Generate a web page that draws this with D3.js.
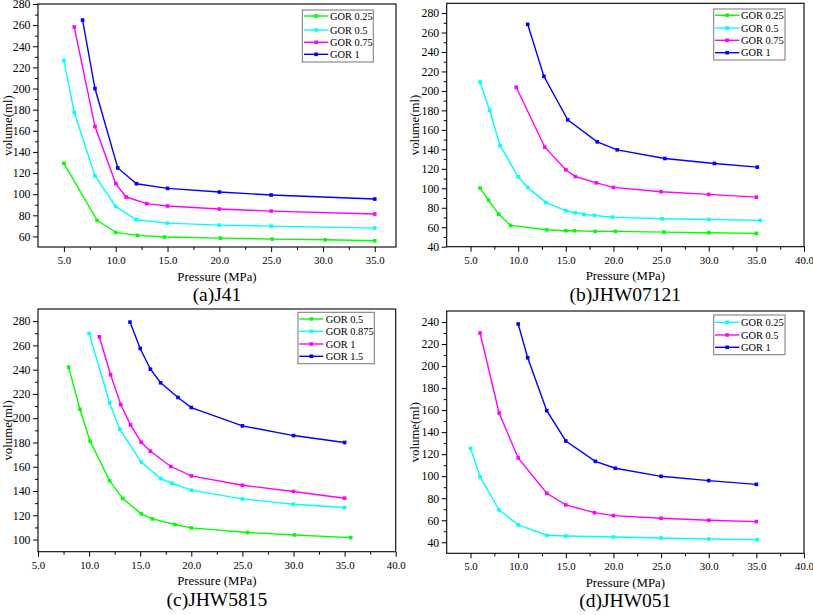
<!DOCTYPE html>
<html><head><meta charset="utf-8">
<script src="https://cdn.jsdelivr.net/npm/d3@7/dist/d3.min.js"></script>
</head><body style="margin:0;background:#fff">
<svg id="chart" width="813" height="615" style="display:block;background:#fff"></svg>
<script>
// ---------------- DATA ----------------
// Panel (a) J41 : [pressure MPa, volume ml]
const a_gor025 = [[5,129.2],[8.2,75.2],[10,63.8],[12.1,61],[14.7,59.4],[20.1,58.4],[25.1,57.5],[30.2,56.8],[35,55.9]];
const a_gor05  = [[5,226.6],[6,177.3],[8,117.2],[10,88.4],[12,75.8],[15,72.6],[20,70.7],[25,69.8],[35,67.9]];
const a_gor075 = [[6,258.2],[8,164],[10,110],[11,97.3],[13,91],[15,88.8],[20,85.9],[25,84],[35,81.2]];
const a_gor1   = [[6.8,264.8],[8,200],[10.2,124.8],[12,109.9],[15,105.5],[20,102],[25,99.2],[35,95.4]];
// Panel (b) JHW07121
const b_gor025 = [[6,100.2],[6.9,87.9],[7.95,73.5],[9.2,61.9],[13,57.4],[15,56.4],[15.9,56.4],[18.1,55.7],[20.2,55.7],[25.3,55],[30,54.4],[35,53.7]];
const b_gor05  = [[6,209.2],[7,180.2],[8.1,143.9],[10,111.8],[11,100.9],[12.9,85.5],[15,76.9],[16,74.9],[16.9,73.2],[18,72.1],[19.9,70.4],[25.1,68.7],[30,68],[35.4,67]];
const b_gor075 = [[9.8,203.8],[12.8,142.2],[15,119],[16,112.1],[18.2,105.6],[20,100.9],[25,96.4],[30,93.7],[35,90.9]];
const b_gor1   = [[11,268.4],[12.7,215],[15.2,170.3],[18.3,147.7],[20.4,139.5],[25.4,130.6],[30.6,125.5],[35.1,121.7]];
// Panel (c) JHW5815
const c_gor05   = [[8,242.1],[9.1,207.4],[10.1,181.1],[12,148.6],[13.3,133.8],[15.1,121.2],[16.2,117],[18.4,112.4],[20,109.6],[25.5,105.8],[30.1,103.8],[35.6,101.6]];
const c_gor0875 = [[10,269.8],[12,212.7],[13,191],[15.1,163.8],[17,150.3],[18.1,146.4],[20,140.7],[25,133.5],[30,129.1],[35,126.4]];
const c_gor1    = [[11,267.1],[12.1,235.8],[13.1,211.3],[14.05,194.5],[15.1,180.2],[16,172.8],[18,160.2],[20,152.5],[25,144.8],[30,139.6],[35,134.1]];
const c_gor15   = [[14,279.2],[15,257.5],[16,240.4],[17,229.2],[18.7,217.1],[20,208.8],[25,193.7],[30,185.7],[35,180]];
// Panel (d) JHW051
const d_gor025 = [[5,125.3],[6,99.6],[8,69.3],[10,55.7],[13,46.4],[15,45.7],[20,44.8],[25,43.9],[30,43],[35.1,42.4]];
const d_gor05  = [[6,230],[8,157.4],[10,116.6],[13,84.5],[15,73.9],[18,66.9],[20,64.2],[25,61.8],[30,60],[35,58.8]];
const d_gor1   = [[10,238.2],[11,207.6],[13,159.5],[15,132],[18.1,113.5],[20.2,107.2],[25,99.9],[30,96],[35,92.6]];

// tick values
const xTicksA = [5,10,15,20,25,30,35];
const xTicksBCD = [5,10,15,20,25,30,35,40];
const yTicksA = [60,80,100,120,140,160,180,200,220,240,260,280];
const yTicksB = [40,60,80,100,120,140,160,180,200,220,240,260,280];
const yTicksC = [100,120,140,160,180,200,220,240,260,280];
const yTicksD = [40,60,80,100,120,140,160,180,200,220,240];

const titles = ["(a)J41","(b)JHW07121","(c)JHW5815","(d)JHW051"];
const xLabel = "Pressure (MPa)";
const yLabel = "volume(ml)";

// ---------------- STYLE / LAYOUT ----------------
const FONT = "'Liberation Serif'";
const COL = {green:"#00ff00", cyan:"#00ffff", magenta:"#ff00ff", blue:"#0000ff"};

const panels = [
  {title:titles[0], box:{l:38,t:4,r:396,b:247}, xDom:[2.5,37.05], yDom:[50,280], xT:xTicksA, yT:yTicksA, yLabX:11.5,
   legend:{x:302.3,y:10,w:71,h:52, lineX0:304, lineX1:328.3, textX:330, rows:[16,30,42.3,54.3]},
   series:[{name:"GOR 0.25",d:a_gor025,c:COL.green},{name:"GOR 0.5",d:a_gor05,c:COL.cyan},{name:"GOR 0.75",d:a_gor075,c:COL.magenta},{name:"GOR 1",d:a_gor1,c:COL.blue}]},
  {title:titles[1], box:{l:446.7,t:3.3,r:804,b:246.7}, xDom:[2.5,40], yDom:[40,290], xT:xTicksBCD, yT:yTicksB, yLabX:418.5,
   legend:{x:713.7,y:9,w:71.3,h:51, lineX0:715, lineX1:739.3, textX:741, rows:[15.3,28,40.3,52.7]},
   series:[{name:"GOR 0.25",d:b_gor025,c:COL.green},{name:"GOR 0.5",d:b_gor05,c:COL.cyan},{name:"GOR 0.75",d:b_gor075,c:COL.magenta},{name:"GOR 1",d:b_gor1,c:COL.blue}]},
  {title:titles[2], box:{l:38,t:309,r:395.7,b:551.7}, xDom:[5,40], yDom:[90,290], xT:xTicksBCD, yT:yTicksC, yLabX:11.5,
   legend:{x:298,y:312.3,w:76.3,h:51.4, lineX0:299.3, lineX1:323.3, textX:325.7, rows:[319,331.3,344,356.3]},
   series:[{name:"GOR 0.5",d:c_gor05,c:COL.green},{name:"GOR 0.875",d:c_gor0875,c:COL.cyan},{name:"GOR 1",d:c_gor1,c:COL.magenta},{name:"GOR 1.5",d:c_gor15,c:COL.blue}]},
  {title:titles[3], box:{l:446.7,t:311,r:804,b:553.3}, xDom:[2.5,40], yDom:[30,250], xT:xTicksBCD, yT:yTicksD, yLabX:418.5,
   legend:{x:713.7,y:315,w:71.3,h:39.7, lineX0:715, lineX1:739.3, textX:741, rows:[322.3,335,347.3]},
   series:[{name:"GOR 0.25",d:d_gor025,c:COL.cyan},{name:"GOR 0.5",d:d_gor05,c:COL.magenta},{name:"GOR 1",d:d_gor1,c:COL.blue}]}
];

const svg = d3.select("#chart");

function minorTicks(dom, step, majorStep){
  const out=[];
  const s = Math.ceil(dom[0]/step - 1e-9);
  const e = Math.floor(dom[1]/step + 1e-9);
  for(let i=s;i<=e;i++){
    const v = +(i*step).toFixed(6);
    if (Math.abs(v/majorStep - Math.round(v/majorStep))<1e-6) continue;
    if (Math.abs(v-dom[0])<1e-6 || Math.abs(v-dom[1])<1e-6) continue;
    out.push(v);
  }
  return out;
}

function styleText(sel, size){
  sel.style("font-family",FONT).style("font-size",size+"px").style("fill","#000");
}

panels.forEach(p=>{
  const B = p.box;
  const x = d3.scaleLinear().domain(p.xDom).range([B.l,B.r]);
  const y = d3.scaleLinear().domain(p.yDom).range([B.b,B.t]);
  const g = svg.append("g");

  const xa = d3.axisBottom(x).tickValues(p.xT).tickFormat(d3.format(".1f")).tickSize(5).tickPadding(4.5).tickSizeOuter(0);
  const xm = d3.axisBottom(x).tickValues(minorTicks(p.xDom,2.5,5)).tickFormat("").tickSize(3).tickSizeOuter(0);
  const ya = d3.axisLeft(y).tickValues(p.yT).tickFormat(d3.format("d")).tickSize(5).tickPadding(2.5).tickSizeOuter(0);
  const ym = d3.axisLeft(y).tickValues(minorTicks(p.yDom,10,20)).tickFormat("").tickSize(3).tickSizeOuter(0);

  [xa,xm].forEach(ax=>{
    const gg = g.append("g").attr("transform",`translate(0,${B.b})`).call(ax);
    gg.select(".domain").remove();
    gg.selectAll("line").attr("stroke","#000");
    styleText(gg.selectAll("text"), 10.8);
  });
  [ya,ym].forEach(ax=>{
    const gg = g.append("g").attr("transform",`translate(${B.l},0)`).call(ax);
    gg.select(".domain").remove();
    gg.selectAll("line").attr("stroke","#000");
    styleText(gg.selectAll("text"), 11.8);
  });

  g.append("rect").attr("x",B.l).attr("y",B.t).attr("width",B.r-B.l).attr("height",B.b-B.t)
    .attr("fill","none").attr("stroke","#000").attr("stroke-width",1.1);

  const line = d3.line().x(d=>x(d[0])).y(d=>y(d[1]));
  p.series.forEach(s=>{
    g.append("path").datum(s.d).attr("d",line).attr("fill","none").attr("stroke",s.c).attr("stroke-width",1.4);
    g.selectAll(null).data(s.d).enter().append("rect")
      .attr("x",d=>x(d[0])-1.8).attr("y",d=>y(d[1])-1.8).attr("width",3.6).attr("height",3.6).attr("fill",s.c);
  });

  const L = p.legend;
  g.append("rect").attr("x",L.x).attr("y",L.y).attr("width",L.w).attr("height",L.h)
    .attr("fill","#fff").attr("stroke","#777").attr("stroke-width",1);
  p.series.forEach((s,i)=>{
    const yy = L.rows[i];
    g.append("line").attr("x1",L.lineX0).attr("x2",L.lineX1).attr("y1",yy).attr("y2",yy).attr("stroke",s.c).attr("stroke-width",1.4);
    const mx = (L.lineX0+L.lineX1)/2;
    g.append("rect").attr("x",mx-1.8).attr("y",yy-1.8).attr("width",3.6).attr("height",3.6).attr("fill",s.c);
    styleText(g.append("text").attr("x",L.textX).attr("y",yy+3.5).text(s.name), 10.4);
  });

  const cx = (B.l+B.r)/2, cy=(B.t+B.b)/2;
  styleText(g.append("text").attr("x",cx).attr("y",B.b+33.5).attr("text-anchor","middle").text(xLabel), 12.8);
  styleText(g.append("text").attr("transform",`translate(${p.yLabX},${cy}) rotate(-90)`).attr("text-anchor","middle").text(yLabel), 12.8);
  styleText(g.append("text").attr("x",cx).attr("y",B.b+54).attr("text-anchor","middle").text(p.title), 19.5);
});
</script>
</body></html>
